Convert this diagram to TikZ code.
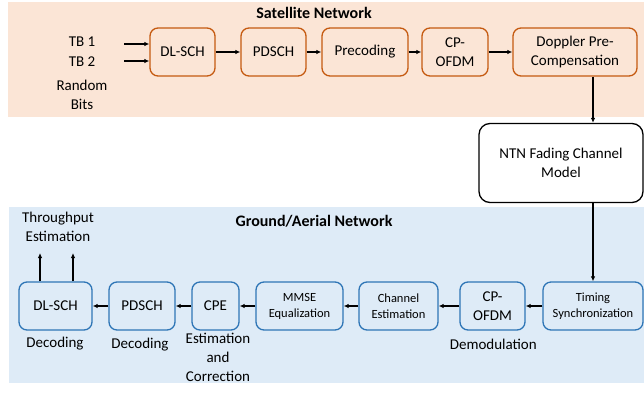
\documentclass[tikz,border=0pt]{standalone}
\usepackage{fontspec}
\setmainfont{Carlito}
\usetikzlibrary{arrows.meta}

\definecolor{satfill}{HTML}{FBE5D6}
\definecolor{satline}{HTML}{C55A11}
\definecolor{gndfill}{HTML}{DEEBF7}
\definecolor{gndline}{HTML}{2E75B6}

\tikzset{
    big/.style={font=\fontsize{15}{19}\selectfont, align=center},
    small/.style={font=\fontsize{12.5}{16}\selectfont, align=center},
    title/.style={font=\fontsize{16}{19}\selectfont\bfseries},
    satbox/.style={big, draw=satline, line width=1.3pt, rounded corners=8pt,
        fill=satfill, minimum height=48pt, inner sep=0pt},
    gndbox/.style={draw=gndline, line width=1.3pt, rounded corners=8pt,
        fill=gndfill, minimum height=48pt, inner sep=0pt},
    flow/.style={line width=1.1pt, -{Latex[length=5pt, width=4.5pt]}}
}

\begin{document}
\begin{tikzpicture}[x=1pt, y=-1pt]
    \useasboundingbox (0, 0) rectangle (644, 394);
    \fill[satfill] (8, 2) rectangle (644, 117);
    \fill[gndfill] (9, 207) rectangle (644, 383);
    \node[title] (sattitle) at (314, 13) {Satellite Network};
    \node[title] (gndtitle) at (314, 221) {Ground/Aerial Network};

    % transmitter chain
    \node[satbox, minimum width=65pt] (txsch) at (182.5, 52) {DL-SCH};
    \node[satbox, minimum width=65pt] (txpdsch) at (273.5, 52) {PDSCH};
    \node[satbox, minimum width=86pt] (precod) at (365, 52) {Precoding};
    \node[satbox, minimum width=66pt] (txofdm) at (455, 52) {CP-\\OFDM};
    \node[satbox, minimum width=124pt] (doppler) at (575, 52) {Doppler Pre-\\Compensation};
    \node[big] (tb1) at (82, 42) {TB 1};
    \node[big] (tb2) at (82, 62) {TB 2};
    \node[big] (bits) at (82, 95) {Random\\Bits};
    \coordinate (tb1in) at (124, 44);
    \coordinate (tb2in) at (124, 61);

    % channel
    \node[big, draw, line width=1.3pt, rounded corners=11pt, fill=white,
        minimum width=164pt, minimum height=79pt] (ntn) at (561, 163)
        {NTN Fading Channel\\Model};

    % receiver chain
    \node[gndbox, big, minimum width=73pt] (rxsch) at (55.5, 306) {DL-SCH};
    \node[gndbox, big, minimum width=66pt] (rxpdsch) at (142, 306) {PDSCH};
    \node[gndbox, big, minimum width=47pt] (cpe) at (215.5, 306) {CPE};
    \node[gndbox, small, minimum width=87pt] (mmse) at (299.5, 306) {MMSE\\Equalization};
    \node[gndbox, small, minimum width=79pt] (chest) at (398.5, 306) {Channel\\Estimation};
    \node[gndbox, big, minimum width=65pt] (rxofdm) at (492.5, 306) {CP-\\OFDM};
    \node[gndbox, small, minimum width=100pt] (timing) at (593, 306) {Timing\\Synchronization};
    \path[big]
        \foreach \n/\p/\t in {
            dec1/{55, 344}/Decoding,
            dec2/{140, 345}/Decoding,
            demod/{495, 344}/Demodulation
        } {
            (\p) node (\n) {\t}
        };
    \node[big] (estcor) at (218, 357) {Estimation\\and\\Correction};
    \node[big] (thru) at (58, 227) {Throughput\\Estimation};
    \coordinate (out1) at (40, 253);
    \coordinate (out2) at (73, 253);

    % connectors
    \draw[flow] (tb1in) -- (txsch.west |- tb1in);
    \draw[flow] (tb2in) -- (txsch.west |- tb2in);
    \draw[flow] (txsch) -- (txpdsch);
    \draw[flow] (txpdsch) -- (precod);
    \draw[flow] (precod) -- (txofdm);
    \draw[flow] (txofdm) -- (doppler);
    \draw[flow] (doppler.south -| timing.north) -- (ntn.north -| timing.north);
    \draw[flow] (ntn.south -| timing.north) -- (timing.north);
    \draw[flow] (timing) -- (rxofdm);
    \draw[flow] (rxofdm) -- (chest);
    \draw[flow] (chest) -- (mmse);
    \draw[flow] (mmse) -- (cpe);
    \draw[flow] (cpe) -- (rxpdsch);
    \draw[flow] (rxpdsch) -- (rxsch);
    \draw[flow] (rxsch.north -| out1) -- (out1);
    \draw[flow] (rxsch.north -| out2) -- (out2);
\end{tikzpicture}
\end{document}
